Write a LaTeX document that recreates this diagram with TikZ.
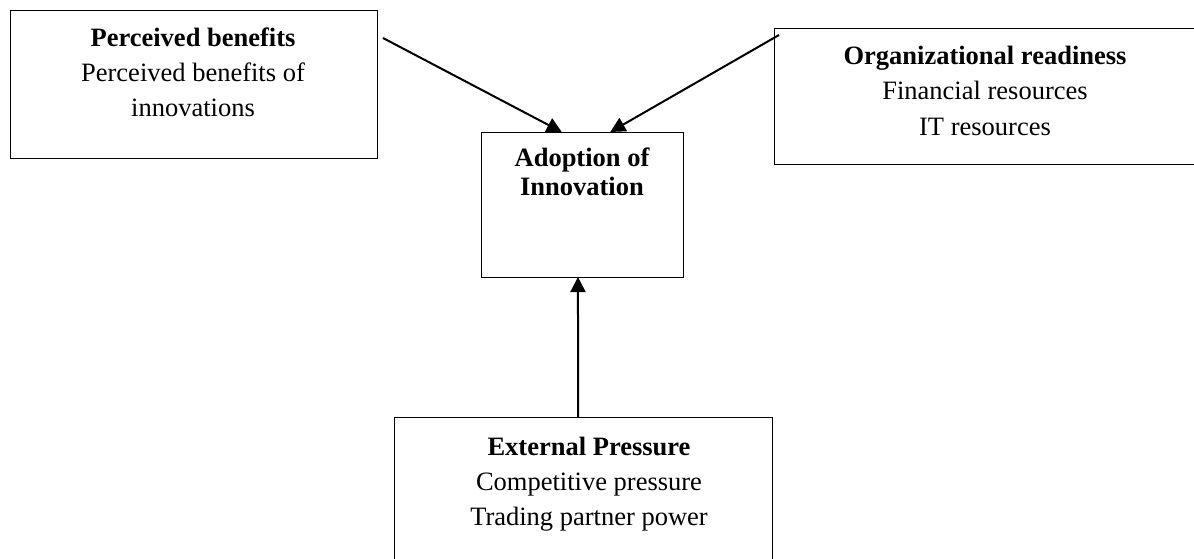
\documentclass[tikz,border=0pt]{standalone}
\usepackage{fontspec}
\setmainfont{Liberation Serif}
\usetikzlibrary{arrows.meta,calc}
\begin{document}
\begin{tikzpicture}[x=1pt,y=-1pt,
  box/.style={draw,line width=1pt,inner sep=0pt,outer sep=0pt},
  txt/.style={anchor=base,inner sep=0pt,font=\fontsize{26.5}{35}\selectfont},
  btxt/.style={txt,font=\fontsize{26.5}{35}\selectfont\bfseries},
  arr/.style={line width=2pt,-{Triangle[length=15pt,width=15pt]}}]
\path[use as bounding box] (0,0) rectangle (1194,558);
\clip (0,0) rectangle (1194,558);
% boxes
\node[box,minimum width=367pt,minimum height=148pt] (pb) at (193.5,84) {};
\node[box,minimum width=426pt,minimum height=136pt] (org) at (987,96) {};
\node[box,minimum width=202pt,minimum height=145pt] (ad) at (582,204.5) {};
\node[box,minimum width=378pt,minimum height=148pt] (ep) at (583,491) {};
% texts
\node[btxt] (pbt1) at (193,46.5) {Perceived benefits};
\node[txt] (pbt2) at (193,81.5) {Perceived benefits of};
\node[txt] (pbt3) at (193,116.5) {innovations};
\node[btxt] (orgt1) at (985,64) {Organizational readiness};
\node[txt] (orgt2) at (985,99.5) {Financial resources};
\node[txt] (orgt3) at (985,135) {IT resources};
\node[btxt] (adt1) at (582,166.5) {Adoption of};
\node[btxt] (adt2) at (582,195) {Innovation};
\node[btxt] (ept1) at (589,455) {External Pressure};
\node[txt] (ept2) at (589,490) {Competitive pressure};
\node[txt] (ept3) at (589,525.5) {Trading partner power};
% connectors
\coordinate (s1) at (383,38);
\coordinate (s2) at (779,35);
\draw[arr] (s1) -- ($(ad.north west)!0.4!(ad.north east)$);
\draw[arr] (s2) -- ($(ad.north west)!0.64!(ad.north east)$);
\draw[arr] ($(ep.north west)!0.487!(ep.north east)$) -- ($(ad.south west)!0.48!(ad.south east)$);
\end{tikzpicture}
\end{document}
